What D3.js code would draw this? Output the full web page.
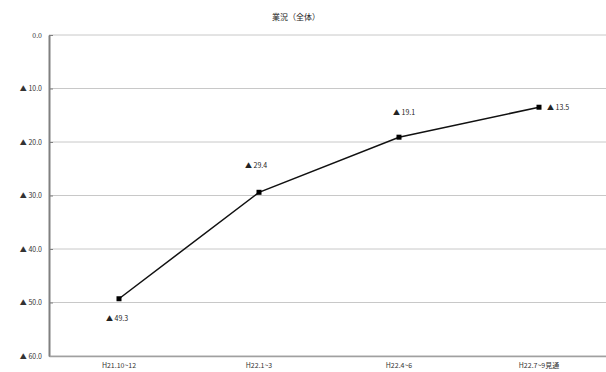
<!DOCTYPE html>
<html><head><meta charset="utf-8">
<script src="https://cdn.jsdelivr.net/npm/d3@7"></script>
<style>
body{margin:0;background:#fff;}
text{font-family:"Noto Sans CJK JP","DejaVu Sans",sans-serif;}
</style></head>
<body><svg id="c" width="606" height="372"></svg>
<script>
// Business conditions DI (overall); negative values are written with ▲
const title = "業況（全体）";
const categories = ["H21.10~12", "H22.1~3", "H22.4~6", "H22.7~9見通"];
const values = [-49.3, -29.4, -19.1, -13.5];
const yTicks = [0, -10, -20, -30, -40, -50, -60];

const svg = d3.select("#c");
const m = {left: 49, top: 35, bottom: 356};
const plotW = 560;

const x = d3.scaleBand().domain(categories).range([m.left, m.left + plotW]);
const y = d3.scaleLinear().domain([0, -60]).range([m.top, m.bottom]);
const fmt = v => v === 0 ? "0.0" : "▲ " + Math.abs(v).toFixed(1);

// gridlines
svg.append("g").selectAll("line").data(yTicks).join("line")
  .attr("x1", m.left).attr("x2", m.left + plotW)
  .attr("y1", d => y(d)).attr("y2", d => y(d))
  .attr("stroke", "#c8c8c8").attr("stroke-width", 1);

// y axis
const yAxis = svg.append("g").attr("transform", `translate(${m.left},0)`)
  .call(d3.axisLeft(y).tickValues(yTicks).tickFormat(fmt).tickSize(0).tickPadding(7));
yAxis.select(".domain").attr("stroke", "#808080").attr("stroke-width", 2);
yAxis.selectAll("text").attr("font-size", 7).attr("fill", "#333");
yAxis.selectAll(".tick").append("line").attr("x1", 0).attr("x2", 4).attr("stroke", "#808080");

// x axis
const xAxis = svg.append("g").attr("transform", `translate(0,${m.bottom})`)
  .call(d3.axisBottom(x).tickSize(0).tickPadding(7));
xAxis.select(".domain").attr("stroke", "#a0a0a0").attr("stroke-width", 1.5);
xAxis.selectAll("text").attr("font-size", 7).attr("fill", "#333");

// title
svg.append("text").attr("x", 296).attr("y", 20).attr("text-anchor", "middle")
  .attr("font-size", 8).attr("fill", "#222").text(title);

// line
const cx = d => x(d) + x.bandwidth() / 2;
const line = d3.line().x((d, i) => cx(categories[i])).y(d => y(d));
svg.append("path").datum(values).attr("d", line)
  .attr("fill", "none").attr("stroke", "#111").attr("stroke-width", 1.5);

// markers
svg.append("g").selectAll("rect").data(values).join("rect")
  .attr("x", (d, i) => cx(categories[i]) - 2.5).attr("y", d => y(d) - 2.5)
  .attr("width", 5).attr("height", 5).attr("fill", "#000");

// value labels
const labelOffsets = [[-13, 22], [-14, -24], [-6, -22], [8, 3]];
svg.append("g").selectAll("text").data(values).join("text")
  .attr("x", (d, i) => cx(categories[i]) + labelOffsets[i][0])
  .attr("y", (d, i) => y(d) + labelOffsets[i][1])
  .attr("font-size", 7).attr("fill", "#222")
  .text(d => fmt(d));
</script></body></html>
